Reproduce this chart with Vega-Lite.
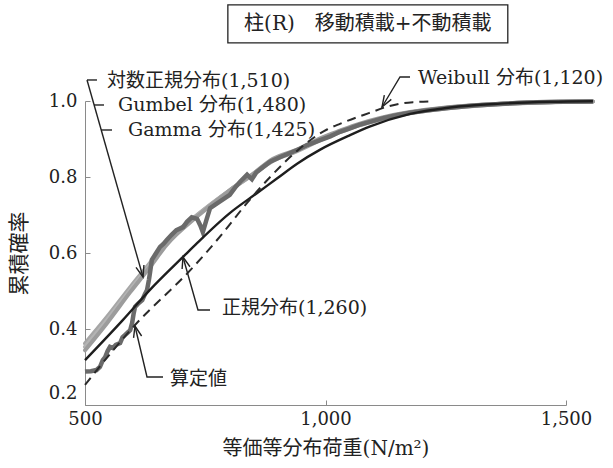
{
  "$schema": "https://vega.github.io/schema/vega-lite/v6.json",
  "width": 481,
  "height": 304,
  "autosize": "none",
  "padding": {"left": 85, "top": 101, "right": 47, "bottom": 63},
  "background": "white",
  "config": {
    "view": {"stroke": null},
    "font": "DejaVu Serif, Noto Sans CJK JP",
    "text": {"font": "DejaVu Serif, Noto Sans CJK JP", "fontSize": 19, "color": "#222222"}
  },
  "datasets": {
    "curves": [
      {"s": "対数正規分布", "x": 500, "y": 0.362}, {"s": "対数正規分布", "x": 546, "y": 0.432}, {"s": "対数正規分布", "x": 594, "y": 0.510}, {"s": "対数正規分布", "x": 635, "y": 0.574}, {"s": "対数正規分布", "x": 670, "y": 0.630}, {"s": "対数正規分布", "x": 733, "y": 0.700}, {"s": "対数正規分布", "x": 801, "y": 0.765}, {"s": "対数正規分布", "x": 850, "y": 0.807}, {"s": "対数正規分布", "x": 891, "y": 0.843}, {"s": "対数正規分布", "x": 941, "y": 0.868}, {"s": "対数正規分布", "x": 989, "y": 0.897}, {"s": "対数正規分布", "x": 1030, "y": 0.918}, {"s": "対数正規分布", "x": 1070, "y": 0.936}, {"s": "対数正規分布", "x": 1110, "y": 0.950}, {"s": "対数正規分布", "x": 1176, "y": 0.968}, {"s": "対数正規分布", "x": 1250, "y": 0.980}, {"s": "対数正規分布", "x": 1330, "y": 0.989}, {"s": "対数正規分布", "x": 1420, "y": 0.995}, {"s": "対数正規分布", "x": 1556, "y": 0.999},
      {"s": "Gumbel分布", "x": 500, "y": 0.353}, {"s": "Gumbel分布", "x": 546, "y": 0.424}, {"s": "Gumbel分布", "x": 594, "y": 0.503}, {"s": "Gumbel分布", "x": 635, "y": 0.568}, {"s": "Gumbel分布", "x": 670, "y": 0.626}, {"s": "Gumbel分布", "x": 733, "y": 0.698}, {"s": "Gumbel分布", "x": 801, "y": 0.765}, {"s": "Gumbel分布", "x": 850, "y": 0.808}, {"s": "Gumbel分布", "x": 891, "y": 0.846}, {"s": "Gumbel分布", "x": 941, "y": 0.870}, {"s": "Gumbel分布", "x": 989, "y": 0.900}, {"s": "Gumbel分布", "x": 1030, "y": 0.920}, {"s": "Gumbel分布", "x": 1070, "y": 0.938}, {"s": "Gumbel分布", "x": 1110, "y": 0.952}, {"s": "Gumbel分布", "x": 1176, "y": 0.970}, {"s": "Gumbel分布", "x": 1250, "y": 0.982}, {"s": "Gumbel分布", "x": 1330, "y": 0.990}, {"s": "Gumbel分布", "x": 1420, "y": 0.996}, {"s": "Gumbel分布", "x": 1556, "y": 0.999},
      {"s": "Gamma分布", "x": 500, "y": 0.344}, {"s": "Gamma分布", "x": 546, "y": 0.416}, {"s": "Gamma分布", "x": 594, "y": 0.497}, {"s": "Gamma分布", "x": 635, "y": 0.563}, {"s": "Gamma分布", "x": 670, "y": 0.622}, {"s": "Gamma分布", "x": 733, "y": 0.696}, {"s": "Gamma分布", "x": 801, "y": 0.765}, {"s": "Gamma分布", "x": 850, "y": 0.809}, {"s": "Gamma分布", "x": 891, "y": 0.848}, {"s": "Gamma分布", "x": 941, "y": 0.872}, {"s": "Gamma分布", "x": 989, "y": 0.902}, {"s": "Gamma分布", "x": 1030, "y": 0.922}, {"s": "Gamma分布", "x": 1070, "y": 0.940}, {"s": "Gamma分布", "x": 1110, "y": 0.954}, {"s": "Gamma分布", "x": 1176, "y": 0.971}, {"s": "Gamma分布", "x": 1250, "y": 0.983}, {"s": "Gamma分布", "x": 1330, "y": 0.991}, {"s": "Gamma分布", "x": 1420, "y": 0.996}, {"s": "Gamma分布", "x": 1556, "y": 0.999},
      {"s": "算定値", "x": 500, "y": 0.288}, {"s": "算定値", "x": 512, "y": 0.289}, {"s": "算定値", "x": 524, "y": 0.292}, {"s": "算定値", "x": 531, "y": 0.300}, {"s": "算定値", "x": 537, "y": 0.318}, {"s": "算定値", "x": 542, "y": 0.326}, {"s": "算定値", "x": 547, "y": 0.342}, {"s": "算定値", "x": 552, "y": 0.353}, {"s": "算定値", "x": 558, "y": 0.350}, {"s": "算定値", "x": 564, "y": 0.358}, {"s": "算定値", "x": 573, "y": 0.363}, {"s": "算定値", "x": 578, "y": 0.378}, {"s": "算定値", "x": 583, "y": 0.384}, {"s": "算定値", "x": 590, "y": 0.392}, {"s": "算定値", "x": 594, "y": 0.397}, {"s": "算定値", "x": 598, "y": 0.416}, {"s": "算定値", "x": 601, "y": 0.440}, {"s": "算定値", "x": 604, "y": 0.458}, {"s": "算定値", "x": 610, "y": 0.466}, {"s": "算定値", "x": 619, "y": 0.476}, {"s": "算定値", "x": 624, "y": 0.490}, {"s": "算定値", "x": 629, "y": 0.503}, {"s": "算定値", "x": 633, "y": 0.530}, {"s": "算定値", "x": 635, "y": 0.547}, {"s": "算定値", "x": 639, "y": 0.582}, {"s": "算定値", "x": 647, "y": 0.598}, {"s": "算定値", "x": 656, "y": 0.616}, {"s": "算定値", "x": 663, "y": 0.624}, {"s": "算定値", "x": 670, "y": 0.634}, {"s": "算定値", "x": 680, "y": 0.648}, {"s": "算定値", "x": 690, "y": 0.660}, {"s": "算定値", "x": 704, "y": 0.668}, {"s": "算定値", "x": 712, "y": 0.682}, {"s": "算定値", "x": 722, "y": 0.694}, {"s": "算定値", "x": 733, "y": 0.690}, {"s": "算定値", "x": 740, "y": 0.672}, {"s": "算定値", "x": 745, "y": 0.655}, {"s": "算定値", "x": 752, "y": 0.685}, {"s": "算定値", "x": 760, "y": 0.718}, {"s": "算定値", "x": 780, "y": 0.735}, {"s": "算定値", "x": 801, "y": 0.753}, {"s": "算定値", "x": 812, "y": 0.772}, {"s": "算定値", "x": 822, "y": 0.787}, {"s": "算定値", "x": 830, "y": 0.797}, {"s": "算定値", "x": 837, "y": 0.806}, {"s": "算定値", "x": 847, "y": 0.794}, {"s": "算定値", "x": 856, "y": 0.812}, {"s": "算定値", "x": 870, "y": 0.826}, {"s": "算定値", "x": 885, "y": 0.840}, {"s": "算定値", "x": 905, "y": 0.852}, {"s": "算定値", "x": 920, "y": 0.860}, {"s": "算定値", "x": 941, "y": 0.871}, {"s": "算定値", "x": 962, "y": 0.884}, {"s": "算定値", "x": 989, "y": 0.897}, {"s": "算定値", "x": 1010, "y": 0.907}, {"s": "算定値", "x": 1030, "y": 0.919}, {"s": "算定値", "x": 1051, "y": 0.928}, {"s": "算定値", "x": 1070, "y": 0.937}, {"s": "算定値", "x": 1093, "y": 0.945}, {"s": "算定値", "x": 1120, "y": 0.955}, {"s": "算定値", "x": 1150, "y": 0.963}, {"s": "算定値", "x": 1176, "y": 0.969}, {"s": "算定値", "x": 1210, "y": 0.975}, {"s": "算定値", "x": 1259, "y": 0.982}, {"s": "算定値", "x": 1310, "y": 0.988}, {"s": "算定値", "x": 1363, "y": 0.992}, {"s": "算定値", "x": 1420, "y": 0.996}, {"s": "算定値", "x": 1480, "y": 0.998}, {"s": "算定値", "x": 1556, "y": 0.999},
      {"s": "正規分布", "x": 500, "y": 0.318}, {"s": "正規分布", "x": 579, "y": 0.424}, {"s": "正規分布", "x": 635, "y": 0.503}, {"s": "正規分布", "x": 708, "y": 0.595}, {"s": "正規分布", "x": 733, "y": 0.626}, {"s": "正規分布", "x": 801, "y": 0.705}, {"s": "正規分布", "x": 858, "y": 0.758}, {"s": "正規分布", "x": 899, "y": 0.796}, {"s": "正規分布", "x": 941, "y": 0.835}, {"s": "正規分布", "x": 989, "y": 0.872}, {"s": "正規分布", "x": 1051, "y": 0.910}, {"s": "正規分布", "x": 1093, "y": 0.933}, {"s": "正規分布", "x": 1176, "y": 0.966}, {"s": "正規分布", "x": 1259, "y": 0.983}, {"s": "正規分布", "x": 1363, "y": 0.993}, {"s": "正規分布", "x": 1467, "y": 0.998}, {"s": "正規分布", "x": 1556, "y": 0.9995},
      {"s": "Weibull分布", "x": 500, "y": 0.253}, {"s": "Weibull分布", "x": 600, "y": 0.405}, {"s": "Weibull分布", "x": 725, "y": 0.563}, {"s": "Weibull分布", "x": 787, "y": 0.653}, {"s": "Weibull分布", "x": 837, "y": 0.732}, {"s": "Weibull分布", "x": 885, "y": 0.800}, {"s": "Weibull分布", "x": 940, "y": 0.868}, {"s": "Weibull分布", "x": 1003, "y": 0.925}, {"s": "Weibull分布", "x": 1030, "y": 0.940}, {"s": "Weibull分布", "x": 1065, "y": 0.957}, {"s": "Weibull分布", "x": 1090, "y": 0.968}, {"s": "Weibull分布", "x": 1128, "y": 0.985}, {"s": "Weibull分布", "x": 1155, "y": 0.993}, {"s": "Weibull分布", "x": 1182, "y": 0.997}, {"s": "Weibull分布", "x": 1215, "y": 0.999}
    ],
    "leaders": [
      {"id": "a", "o": 1, "x": 504.2, "y": 1.0553}, {"id": "a", "o": 2, "x": 620.6, "y": 0.5368},
      {"id": "ah", "o": 1, "x": 606.0, "y": 0.5624}, {"id": "ah", "o": 2, "x": 620.6, "y": 0.5368}, {"id": "ah", "o": 3, "x": 622.5, "y": 0.5684},
      {"id": "t1", "o": 1, "x": 504.2, "y": 1.0553}, {"id": "t1", "o": 2, "x": 524.9, "y": 1.0553},
      {"id": "t2", "o": 1, "x": 518.7, "y": 0.9895}, {"id": "t2", "o": 2, "x": 539.5, "y": 0.9895},
      {"id": "t3", "o": 1, "x": 533.3, "y": 0.9237}, {"id": "t3", "o": 2, "x": 556.2, "y": 0.9237},
      {"id": "n", "o": 1, "x": 759.9, "y": 0.45}, {"id": "n", "o": 2, "x": 734.9, "y": 0.45}, {"id": "n", "o": 3, "x": 703.7, "y": 0.5895},
      {"id": "nh", "o": 1, "x": 701.9, "y": 0.5579}, {"id": "nh", "o": 2, "x": 703.7, "y": 0.5895}, {"id": "nh", "o": 3, "x": 718.3, "y": 0.5639},
      {"id": "e", "o": 1, "x": 662.2, "y": 0.2737}, {"id": "e", "o": 2, "x": 628.9, "y": 0.2737}, {"id": "e", "o": 3, "x": 603.9, "y": 0.4079},
      {"id": "eh", "o": 1, "x": 601.0, "y": 0.3766}, {"id": "eh", "o": 2, "x": 603.9, "y": 0.4079}, {"id": "eh", "o": 3, "x": 617.7, "y": 0.3816},
      {"id": "w", "o": 1, "x": 1175.7, "y": 1.0632}, {"id": "w", "o": 2, "x": 1154.9, "y": 1.0632}, {"id": "w", "o": 3, "x": 1117.5, "y": 0.9842},
      {"id": "wh", "o": 1, "x": 1136.8, "y": 1.0042}, {"id": "wh", "o": 2, "x": 1117.5, "y": 0.9842}, {"id": "wh", "o": 3, "x": 1122.3, "y": 1.0153}
    ],
    "labels": [
      {"label": "対数正規分布(1,510)", "x": 545.7, "y": 1.0553},
      {"label": "Gumbel 分布(1,480)", "x": 568.6, "y": 0.9921},
      {"label": "Gamma 分布(1,425)", "x": 589.4, "y": 0.9263},
      {"label": "Weibull 分布(1,120)", "x": 1192.3, "y": 1.0632},
      {"label": "正規分布(1,260)", "x": 784.8, "y": 0.4579},
      {"label": "算定値", "x": 676.7, "y": 0.2711}
    ],
    "headbox": [
      {"x": 797, "x2": 1379, "y": 1.153, "y2": 1.253}
    ],
    "headtext": [
      {"label": "柱(R)　移動積載+不動積載", "x": 1088, "y": 1.203}
    ]
  },
  "encoding": {
    "x": {"field": "x", "type": "quantitative", "title": "等価等分布荷重(N/m²)",
      "scale": {"domain": [500, 1500], "nice": false, "zero": false},
      "axis": {"values": [500, 1000, 1500], "format": ",d", "domainColor": "#8a8a8a", "domainWidth": 1, "tickColor": "#8a8a8a", "tickSize": -5, "labelFont": "DejaVu Serif", "labelFontSize": 18, "labelColor": "#222222", "labelPadding": 10, "labelFlush": false, "grid": false, "titleFont": "DejaVu Serif, Noto Sans CJK JP", "titleFontSize": 20, "titleFontWeight": "normal", "titleColor": "#222222", "titlePadding": 10}},
    "y": {"field": "y", "type": "quantitative", "title": "累積確率",
      "scale": {"domain": [0.2, 1.0], "nice": false, "zero": false},
      "axis": {"values": [0.2, 0.4, 0.6, 0.8, 1.0], "format": ".1f", "domainColor": "#8a8a8a", "domainWidth": 1, "tickColor": "#8a8a8a", "tickSize": -5, "labelFont": "DejaVu Serif", "labelFontSize": 18, "labelColor": "#222222", "labelPadding": 13, "labelOffset": {"condition": {"test": "datum.value === 0.2", "value": -12}, "value": 0}, "grid": false, "titleFont": "Noto Sans CJK JP", "titleFontSize": 21, "titleFontWeight": "normal", "titleColor": "#222222", "titlePadding": 19}}
  },
  "layer": [
    {
      "data": {"name": "curves"},
      "transform": [{"filter": "datum.s === '対数正規分布' || datum.s === 'Gumbel分布' || datum.s === 'Gamma分布'"}],
      "mark": {"type": "line", "interpolate": "monotone", "strokeWidth": 4, "strokeCap": "round"},
      "encoding": {
        "color": {"field": "s", "type": "nominal", "legend": null, "scale": {"domain": ["Gamma分布", "Gumbel分布", "対数正規分布"], "range": ["#9c9c9c", "#b4b4b4", "#a6a6a6"]}}
      }
    },
    {
      "data": {"name": "curves"},
      "transform": [{"filter": "datum.s === '算定値'"}],
      "mark": {"type": "line", "interpolate": "linear", "strokeWidth": 4.5, "color": "#6a6a6a", "strokeJoin": "miter"}
    },
    {
      "data": {"name": "curves"},
      "transform": [{"filter": "datum.s === '正規分布'"}],
      "mark": {"type": "line", "interpolate": "monotone", "strokeWidth": 2.4, "color": "#1e1e1e"}
    },
    {
      "data": {"name": "curves"},
      "transform": [{"filter": "datum.s === 'Weibull分布'"}],
      "mark": {"type": "line", "interpolate": "monotone", "strokeWidth": 2, "color": "#2a2a2a", "strokeDash": [9, 6]}
    },
    {
      "data": {"name": "leaders"},
      "mark": {"type": "line", "strokeWidth": 1.4, "color": "#222222"},
      "encoding": {
        "detail": {"field": "id", "type": "nominal"},
        "order": {"field": "o", "type": "quantitative"}
      }
    },
    {
      "data": {"name": "labels"},
      "mark": {"type": "text", "align": "left", "baseline": "middle", "dy": 1},
      "encoding": {"text": {"field": "label", "type": "nominal"}}
    },
    {
      "data": {"name": "headbox"},
      "mark": {"type": "rect", "fill": "white", "stroke": "#222222", "strokeWidth": 1.3},
      "encoding": {
        "x2": {"field": "x2"},
        "y2": {"field": "y2"}
      }
    },
    {
      "data": {"name": "headtext"},
      "mark": {"type": "text", "align": "center", "baseline": "middle", "fontSize": 20},
      "encoding": {"text": {"field": "label", "type": "nominal"}}
    }
  ]
}
